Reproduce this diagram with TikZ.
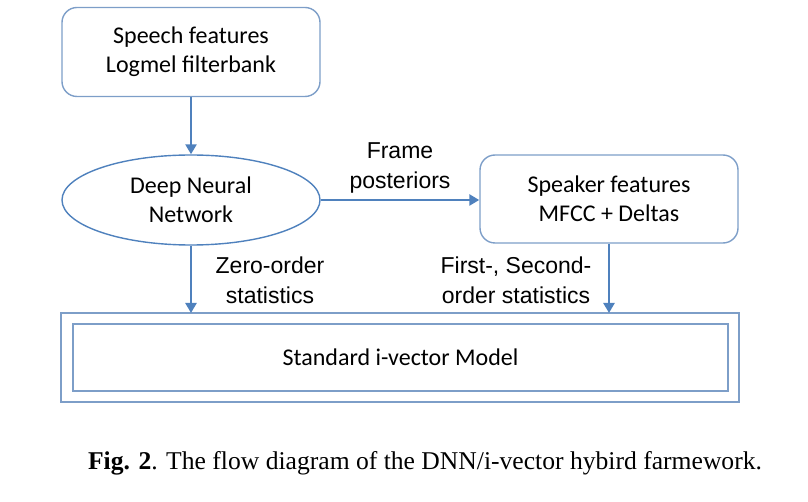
\documentclass[tikz,border=0pt]{standalone}
\usepackage{fontspec}
\setmainfont{Liberation Serif}
\newfontfamily\boxfont{Carlito}
\newfontfamily\labfont{Liberation Sans}
\usetikzlibrary{shapes.geometric,arrows.meta}
\definecolor{lineblue}{RGB}{79,129,189}
\definecolor{boxblue}{RGB}{125,158,200}
\begin{document}
\begin{tikzpicture}[x=1pt,y=-1pt,
  boxtxt/.style={font=\boxfont\fontsize{24}{29}\selectfont,align=center,inner sep=0pt},
  labtxt/.style={font=\labfont\fontsize{23}{30}\selectfont,align=center,inner sep=0pt},
  rbox/.style={draw=boxblue,line width=1.4pt,rounded corners=15pt,minimum width=258pt,minimum height=89pt},
  flow/.style={draw=lineblue,line width=2.4pt,-{Triangle[length=10pt,width=11pt]}}]
\useasboundingbox (0,0) rectangle (808,502);
\node[rbox,boxtxt] (speech) at (191,52) {Speech features\\Logmel filterbank};
\node[ellipse,draw=lineblue,line width=1.4pt,minimum width=258pt,minimum height=90pt,boxtxt] (dnn) at (191,200) {Deep Neural\\Network};
\node[rbox,boxtxt,minimum height=88pt] (spk) at (609,199) {Speaker features\\MFCC + Deltas};
\node[draw=boxblue,line width=1.4pt,minimum width=678pt,minimum height=89pt,inner sep=0pt] (outer) at (400,357.5) {};
\node[draw=boxblue,line width=1.4pt,minimum width=655pt,minimum height=67pt,boxtxt] (model) at (400.5,357.5) {Standard i-vector Model};
\coordinate (a1) at (191,313);
\coordinate (a2) at (609,313);
\draw[flow] (speech.south) -- (dnn.north);
\draw[flow] (dnn.east) -- (spk.west |- dnn.east);
\draw[flow] (dnn.south) -- (a1);
\draw[flow] (spk.south) -- (a2);
\node[labtxt] (lframe) at (400,168) {Frame\\posteriors};
\node[labtxt] (lzero) at (270,280) {Zero-order\\statistics};
\node[labtxt] (lfirst) at (516,280) {First-, Second-\\order statistics};
\node[font=\fontsize{25.6}{30}\selectfont,inner sep=0pt] (cap) at (425,463) {\textbf{Fig. 2}. The flow diagram of the DNN/i-vector hybird farmework.};
\end{tikzpicture}
\end{document}
